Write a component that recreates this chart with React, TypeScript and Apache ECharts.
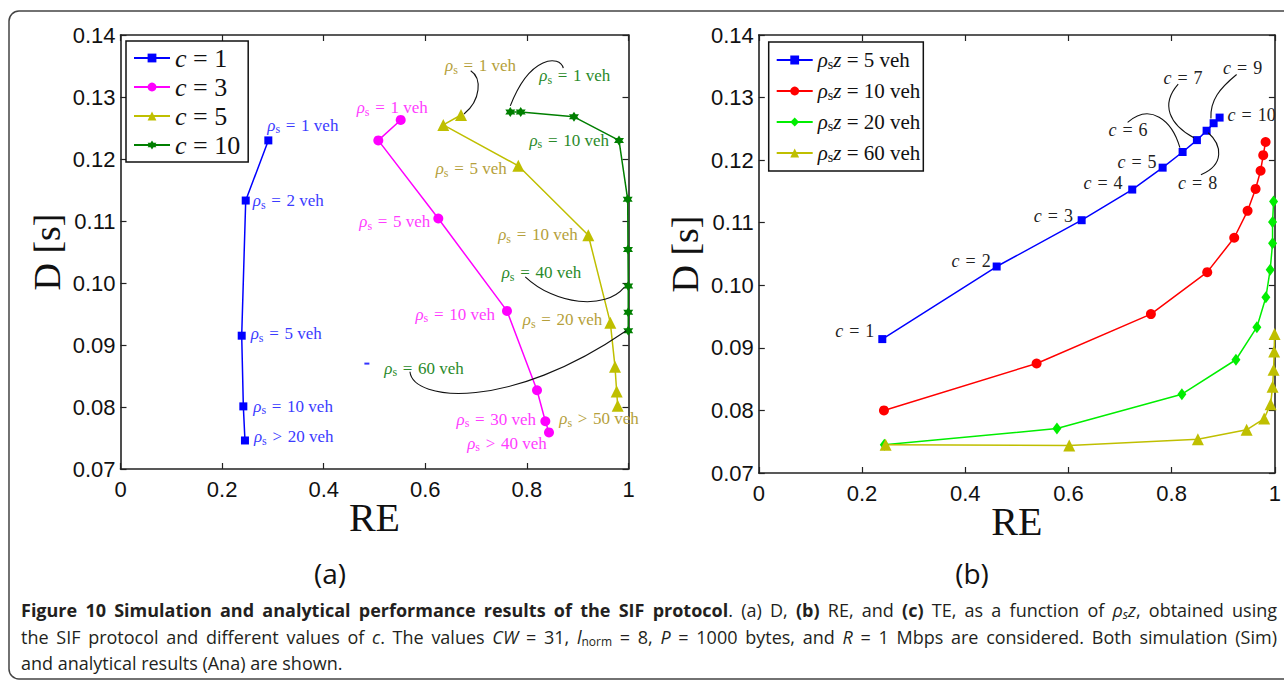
import React, { useEffect, useRef } from "react";
import * as echarts from "echarts";

// ---------- data ----------
const xTickValues = [0, 0.2, 0.4, 0.6, 0.8, 1];
const yTickValues = [0.07, 0.08, 0.09, 0.1, 0.11, 0.12, 0.13, 0.14];

// panel (a): D vs RE for different c
const aNames = ["c = 1", "c = 3", "c = 5", "c = 10"];
const aC1RE = [0.291, 0.2465, 0.2386, 0.2418, 0.245];
const aC1D = [0.123, 0.1133, 0.0915, 0.0801, 0.0746];
const aC3RE = [0.5516, 0.5075, 0.6256, 0.7608, 0.8199, 0.8363, 0.8435];
const aC3D = [0.1263, 0.123, 0.1104, 0.0955, 0.0827, 0.0777, 0.0759];
const aC5RE = [0.6703, 0.6354, 0.7831, 0.9209, 0.9642, 0.9734, 0.9767, 0.9787];
const aC5D = [0.1271, 0.1255, 0.1189, 0.1077, 0.0936, 0.0865, 0.0825, 0.0802];
const aC10RE = [0.7673, 0.7878, 0.8927, 0.9813, 0.9984, 0.999, 0.9995, 0.9995, 0.9995];
const aC10D = [0.1276, 0.1276, 0.1268, 0.123, 0.1135, 0.1054, 0.0995, 0.0953, 0.0923];
const aStrayRE = [0.485];
const aStrayD = [0.087];

// panel (b): D vs RE for different rho_s z, points c = 1..10
const bNames = ["ρsz = 5 veh", "ρsz = 10 veh", "ρsz = 20 veh", "ρsz = 60 veh"];
const bZ5RE = [0.2393, 0.4609, 0.6256, 0.7236, 0.7825, 0.8212, 0.8489, 0.8677, 0.8813, 0.8929];
const bZ5D = [0.0914, 0.103, 0.1104, 0.1153, 0.1188, 0.1213, 0.1232, 0.1247, 0.1259, 0.1268];
const bZ10RE = [0.2425, 0.5383, 0.7598, 0.8689, 0.9212, 0.9471, 0.9626, 0.9723, 0.9774, 0.982];
const bZ10D = [0.08, 0.0875, 0.0954, 0.1021, 0.1076, 0.1119, 0.1154, 0.1183, 0.1208, 0.1229];
const bZ20RE = [0.2432, 0.5777, 0.8198, 0.9245, 0.9651, 0.9826, 0.9909, 0.9955, 0.9955, 0.9975];
const bZ20D = [0.0745, 0.0771, 0.0826, 0.0881, 0.0933, 0.0981, 0.1025, 0.1067, 0.1101, 0.1134];
const bZ60RE = [0.2458, 0.6015, 0.8508, 0.9452, 0.9793, 0.9917, 0.9955, 0.9975, 0.9986, 0.9994];
const bZ60D = [0.0745, 0.0744, 0.0754, 0.0769, 0.0787, 0.081, 0.0838, 0.0865, 0.0894, 0.0922];
const bCLabels = ["1", "2", "3", "4", "5", "6", "7", "8", "9", "10"];

// ---------- layout / style ----------
const SERIF = "'Liberation Serif', 'DejaVu Serif', serif";
const SANS = "'Liberation Sans', Arial, sans-serif";
const CAP = "'Open Sans', 'Noto Sans', sans-serif";
const SP = "\u2004";

const HEX =
  "path://M0,-10L2.887,-5L8.66,-5L5.774,0L8.66,5L2.887,5L0,10L-2.887,5L-8.66,5L-5.774,0L-8.66,-5L-2.887,-5Z";

// annotation layout for panel (a): series, point, offset, alignment, operator, value
const aLabels: [number, number, number, number, "left" | "right", string, string][] = [
  [0, 0, -1, -15, "left", "=", "1"],
  [0, 1, 7, 0, "left", "=", "2"],
  [0, 2, 9, -2, "left", "=", "5"],
  [0, 3, 10, 0, "left", "=", "10"],
  [0, 4, 9, -3.5, "left", ">", "20"],
  [1, 0, -44, -12, "left", "=", "1"],
  [1, 2, -8, 3.4, "right", "=", "5"],
  [1, 3, -12, 3.3, "right", "=", "10"],
  [1, 5, -9.3, -2, "right", "=", "30"],
  [1, 6, -2.3, 11, "right", ">", "40"],
  [2, 0, -16, -49, "left", "=", "1"],
  [2, 2, -11.6, 3, "right", "=", "5"],
  [2, 3, -10.6, -0.7, "right", "=", "10"],
  [2, 4, -8, -2.7, "right", "=", "20"],
  [2, 7, -58.4, 13, "left", ">", "50"],
  [3, 0, 29, -36.3, "left", "=", "1"],
  [3, 3, -10, 0, "right", "=", "10"],
  [3, 6, -126.6, -13.3, "left", "=", "40"],
  [3, 8, -244, 37.3, "left", "=", "60"],
];
const aLabelColors = ["#3b3bff", "#ff3cff", "#b59f3b", "#2a8a2a"];
// connectors (relative to anchor point): sx, sy, c1x, c1y, c2x, c2y, ex, ey
const aConnectors: [number, number, number[]][] = [
  [2, 0, [9.7, -44.3, 21, -37, 20, -15, 3, -1]],
  [3, 0, [53, -43.7, 49.7, -57, 19.7, -57, 0, -6]],
  [3, 6, [-103, -9.3, -73, 19, -23, 24, -4, 1.3]],
  [3, 8, [-218.3, 41, -215, 71, -118, 80, -2, 0]],
];
// panel (b) c labels: point index, dx, dy, align
const bLabelPos: [number, number, number, "left" | "right"][] = [
  [0, -8, -7.6, "right"],
  [1, -6, -5.6, "right"],
  [2, -8.7, -4.3, "right"],
  [3, -9.6, -7, "right"],
  [4, -6, -5.4, "right"],
  [5, -35, -21.6, "right"],
  [6, 5.7, -62.6, "right"],
  [7, 10.6, 52.3, "right"],
  [8, 48.6, -55.3, "right"],
  [9, 8, -2.3, "left"],
];
const bConnectors: [number, number[]][] = [
  [5, [-55, -29.6, -32.7, -49.3, -10.7, -32.3, -2.7, -4.3]],
  [6, [-18.7, -56, -37, -35.3, -27, -15.3, -3, -2.3]],
  [7, [-5.7, 44, 18.3, 34, 15.3, 14, 1.6, 2]],
  [8, [23, -48.7, 6.3, -35, -3.7, -23, -2.7, -4.7]],
];

// caption segments: [style key, text]
const capSegs: [string, string][][] = [
  [
    ["b", "Figure 10 Simulation and analytical performance results of the SIF protocol"],
    ["n", ". (a) D, "],
    ["b", "(b)"],
    ["n", " RE, and "],
    ["b", "(c)"],
    ["n", " TE, as a function of "],
    ["i", "ρ"],
    ["si", "s"],
    ["i", "z"],
    ["n", ", obtained using"],
  ],
  [
    ["n", "the SIF protocol and different values of "],
    ["i", "c"],
    ["n", ". The values "],
    ["i", "CW"],
    ["n", " = 31, "],
    ["i", "l"],
    ["sub", "norm"],
    ["n", " = 8, "],
    ["i", "P"],
    ["n", " = 1000 bytes, and "],
    ["i", "R"],
    ["n", " = 1 Mbps are considered. Both simulation (Sim)"],
  ],
  [["n", "and analytical results (Ana) are shown."]],
];
const capJustify = [true, true, false];

const pairs = (xs: number[], ys: number[]) => xs.map((x, i) => [x, ys[i]]);

function xAxisDef(grid: number, pos: "bottom" | "top") {
  const bottom = pos === "bottom";
  return {
    type: "value",
    gridIndex: grid,
    position: pos,
    min: xTickValues[0],
    max: xTickValues[xTickValues.length - 1],
    interval: 0.2,
    axisLine: { show: true, onZero: false, lineStyle: { color: "#222", width: 1.6 } },
    axisTick: { show: true, inside: true, length: 6, lineStyle: { color: "#222", width: 1.2 } },
    splitLine: { show: false },
    axisLabel: bottom
      ? {
          show: true,
          fontFamily: SANS,
          fontSize: 22,
          color: "#111",
          margin: 9,
          formatter: (v: number) => (v === 0 ? "0" : v === 1 ? "1" : v.toFixed(1)),
        }
      : { show: false },
    name: bottom ? "RE" : "",
    nameLocation: "middle",
    nameGap: 28,
    nameMoveOverlap: false,
    nameTextStyle: { fontFamily: SERIF, fontSize: 40, color: "#111" },
  };
}
function yAxisDef(grid: number, pos: "left" | "right") {
  const left = pos === "left";
  return {
    type: "value",
    gridIndex: grid,
    position: pos,
    min: yTickValues[0],
    max: yTickValues[yTickValues.length - 1],
    interval: 0.01,
    axisLine: { show: true, onZero: false, lineStyle: { color: "#222", width: 1.6 } },
    axisTick: { show: true, inside: true, length: 6, lineStyle: { color: "#222", width: 1.2 } },
    splitLine: { show: false },
    axisLabel: left
      ? { show: true, fontFamily: SANS, fontSize: 22, color: "#111", margin: 5, formatter: (v: number) => v.toFixed(2) }
      : { show: false },
    name: left ? "D [s]" : "",
    nameLocation: "middle",
    nameRotate: 90,
    nameGap: 55,
    nameTextStyle: { fontFamily: SERIF, fontSize: 38, color: "#111" },
  };
}

function lineSeries(name: string, data: number[][], color: string, symbol: string, size: any, axis: number) {
  return {
    type: "line",
    name,
    data,
    xAxisIndex: axis,
    yAxisIndex: axis,
    color,
    symbol,
    symbolSize: size,
    showSymbol: true,
    lineStyle: { width: 1.5, color },
    itemStyle: { color, borderWidth: 0 },
    emphasis: { disabled: true },
    z: 3,
  };
}

const rhoRich = (size: number, color: string) => ({
  r: { fontFamily: SERIF, fontSize: size, fontStyle: "italic", fill: color, color },
  s: { fontFamily: SERIF, fontSize: Math.round(size * 0.68), fill: color, color, padding: [Math.round(size * 0.45), 0, 0, 0] },
  i: { fontFamily: SERIF, fontSize: size, fontStyle: "italic", fill: color, color },
  t: { fontFamily: SERIF, fontSize: size, fill: color, color },
});

export default function App() {
  const ref = useRef<HTMLDivElement>(null);
  useEffect(() => {
    document.body.style.margin = "0";
    const chart = echarts.init(ref.current!, null, { renderer: "svg" });
    const option: any = {
      animation: false,
      backgroundColor: "#fff",
      grid: [
        { left: 120.5, top: 35, width: 508, height: 434 },
        { left: 758.8, top: 35, width: 516.2, height: 438 },
      ],
      xAxis: [xAxisDef(0, "bottom"), xAxisDef(0, "top"), xAxisDef(1, "bottom"), xAxisDef(1, "top")],
      yAxis: [yAxisDef(0, "left"), yAxisDef(0, "right"), yAxisDef(1, "left"), yAxisDef(1, "right")],
      legend: [
        {
          data: aNames,
          orient: "vertical",
          left: 126,
          top: 41,
          padding: [4, 8, 4, 7],
          itemGap: 3,
          itemWidth: 36,
          itemHeight: 11,
          backgroundColor: "#fff",
          borderColor: "#111",
          borderWidth: 1.5,
          borderRadius: 0,
          selectedMode: false,
          formatter: (n: string) => "{i|c}{t|" + n.slice(1) + "}",
          textStyle: {
            fontFamily: SERIF,
            fontSize: 26,
            lineHeight: 24,
            color: "#111",
            rich: {
              i: { fontFamily: SERIF, fontSize: 26, fontStyle: "italic", color: "#111", lineHeight: 24 },
              t: { fontFamily: SERIF, fontSize: 26, color: "#111", lineHeight: 24 },
            },
          },
        },
        {
          data: bNames,
          orient: "vertical",
          left: 768.7,
          top: 42,
          padding: [5, 3, 5, 7],
          itemGap: 5,
          itemWidth: 36,
          itemHeight: 11,
          backgroundColor: "#fff",
          borderColor: "#111",
          borderWidth: 1.5,
          borderRadius: 0,
          selectedMode: false,
          formatter: (n: string) => "{r|ρ}{s|s}{i|z}{t|" + n.slice(3) + "}",
          textStyle: {
            fontFamily: SERIF,
            fontSize: 21,
            lineHeight: 26,
            color: "#111",
            rich: {
              r: { fontFamily: SERIF, fontSize: 21, fontStyle: "italic", color: "#111" },
              s: { fontFamily: SERIF, fontSize: 14, color: "#111", padding: [9, 0, 0, 0] },
              i: { fontFamily: SERIF, fontSize: 21, fontStyle: "italic", color: "#111" },
              t: { fontFamily: SERIF, fontSize: 21, color: "#111" },
            },
          },
        },
      ],
      series: [
        lineSeries(aNames[0], pairs(aC1RE, aC1D), "#0000ff", "rect", 8, 0),
        lineSeries(aNames[1], pairs(aC3RE, aC3D), "#ff00ff", "circle", 10, 0),
        lineSeries(aNames[2], pairs(aC5RE, aC5D), "#bfbf00", "triangle", 12, 0),
        lineSeries(aNames[3], pairs(aC10RE, aC10D), "#007f00", HEX, 10, 0),
        lineSeries(bNames[0], pairs(bZ5RE, bZ5D), "#0000ff", "rect", 8, 2),
        lineSeries(bNames[1], pairs(bZ10RE, bZ10D), "#ff0000", "circle", 10, 2),
        lineSeries(bNames[2], pairs(bZ20RE, bZ20D), "#00ee00", "diamond", [9, 12], 2),
        lineSeries(bNames[3], pairs(bZ60RE, bZ60D), "#bfbf00", "triangle", 12, 2),
        {
          type: "scatter",
          data: pairs(aStrayRE, aStrayD),
          xAxisIndex: 0,
          yAxisIndex: 0,
          symbol: "rect",
          symbolSize: [5, 2],
          itemStyle: { color: "#0000ff" },
          silent: true,
        },
      ],
    };
    chart.setOption(option);

    const seriesData = option.series.map((s: any) => s.data);
    const px = (s: number, i: number) =>
      chart.convertToPixel({ seriesIndex: s }, seriesData[s][i]) as number[];

    const graphics: any[] = [];
    // figure frame
    graphics.push({
      type: "rect",
      shape: { x: 9, y: 11, width: 1290, height: 668, r: 10 },
      style: { fill: "none", stroke: "#444", lineWidth: 1.5 },
      silent: true,
      z: 0,
    });

    const curve = (p: number[], d: number[]) => ({
      type: "bezierCurve",
      silent: true,
      z: 9,
      shape: {
        x1: p[0] + d[0], y1: p[1] + d[1],
        cpx1: p[0] + d[2], cpy1: p[1] + d[3],
        cpx2: p[0] + d[4], cpy2: p[1] + d[5],
        x2: p[0] + d[6], y2: p[1] + d[7],
      },
      style: { stroke: "#111", lineWidth: 1.1, fill: "none" },
    });

    // panel (a) labels
    aLabels.forEach(([s, i, dx, dy, align, op, v]) => {
      const p = px(s, i);
      const c = aLabelColors[s];
      graphics.push({
        type: "text",
        x: p[0] + dx,
        y: p[1] + dy,
        silent: true,
        z: 10,
        style: {
          text: "{r|ρ}{s|s}{t|" + SP + op + SP + v + " veh}",
          align,
          verticalAlign: "middle",
          fill: c,
          rich: rhoRich(17, c),
        },
      });
    });
    aConnectors.forEach(([s, i, d]) => graphics.push(curve(px(s, i), d)));

    // panel (b) labels
    bLabelPos.forEach(([i, dx, dy, align]) => {
      const p = px(4, i);
      graphics.push({
        type: "text",
        x: p[0] + dx,
        y: p[1] + dy,
        silent: true,
        z: 10,
        style: {
          text: "{i|c}{t|" + SP + "=" + SP + bCLabels[i] + "}",
          align,
          verticalAlign: "middle",
          fill: "#222",
          rich: rhoRich(18, "#222"),
        },
      });
    });
    bConnectors.forEach(([i, d]) => graphics.push(curve(px(4, i), d)));

    // sub-figure captions
    graphics.push({
      type: "text", x: 330, y: 573, silent: true,
      style: { text: "(a)", font: "28px " + CAP, fill: "#111", align: "center", verticalAlign: "middle" },
    });
    graphics.push({
      type: "text", x: 972, y: 573, silent: true,
      style: { text: "(b)", font: "28px " + CAP, fill: "#111", align: "center", verticalAlign: "middle" },
    });

    // figure caption (justified lines)
    const FS = 18;
    const col = "#231f20";
    const capRich: any = {
      b: { fontFamily: CAP, fontSize: FS, fontWeight: "bold", fill: col },
      n: { fontFamily: CAP, fontSize: FS, fill: col },
      i: { fontFamily: CAP, fontSize: FS, fontStyle: "italic", fill: col },
      sub: { fontFamily: CAP, fontSize: 12, fill: col, padding: [9, 0, 0, 0] },
      si: { fontFamily: CAP, fontSize: 12, fontStyle: "italic", fill: col, padding: [9, 0, 0, 0] },
    };
    const buildLine = (segs: [string, string][], spKey: string) => {
      let out = "";
      let n = 0;
      segs.forEach(([k, t]) => {
        const words = t.split(" ");
        words.forEach((w, wi) => {
          if (wi > 0) {
            out += "{" + spKey + "|\u00a0}";
            n++;
          }
          if (w) out += "{" + k + "|" + w + "}";
        });
      });
      return { out, n };
    };
    const measure = (text: string, rich: any) =>
      new echarts.graphic.Text({ style: { text, rich } as any }).getBoundingRect().width;
    const TARGET = 1256;
    capSegs.forEach((segs, k) => {
      const spKey = "sp" + k;
      const r0: any = { ...capRich, [spKey]: { fontFamily: CAP, fontSize: FS, fill: col } };
      const { out, n } = buildLine(segs, spKey);
      let rich = r0;
      if (capJustify[k] && n > 0) {
        const w0 = measure(out, r0);
        const ws = measure("{n|a\u00a0a}", capRich) - measure("{n|aa}", capRich);
        const extra = (TARGET - w0) / n;
        if (extra > 0) {
          rich = { ...capRich, [spKey]: { fontFamily: CAP, fontSize: FS, fill: col, width: ws + extra } };
        }
      }
      graphics.push({
        type: "text",
        x: 21,
        y: 610 + k * 26.5,
        silent: true,
        style: { text: out, rich, align: "left", verticalAlign: "middle" },
      });
    });

    chart.setOption({ graphic: graphics });
    return () => chart.dispose();
  }, []);
  return <div ref={ref} style={{ width: 1284, height: 682 }} />;
}
